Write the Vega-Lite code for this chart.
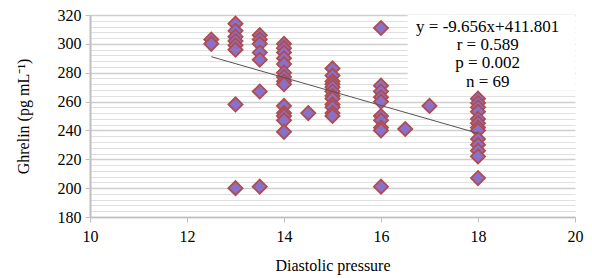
{
  "$schema": "https://vega.github.io/schema/vega-lite/v6.json",
  "width": 485,
  "height": 202,
  "autosize": "none",
  "padding": {"left": 90, "top": 15, "right": 17, "bottom": 61},
  "background": "white",
  "config": {
    "view": {"stroke": null},
    "font": "Liberation Serif"
  },
  "datasets": {
    "pts": [
      {"dp": 12.5, "gh": 303}, {"dp": 12.5, "gh": 300},
      {"dp": 13, "gh": 314}, {"dp": 13, "gh": 309}, {"dp": 13, "gh": 305}, {"dp": 13, "gh": 302}, {"dp": 13, "gh": 299}, {"dp": 13, "gh": 296}, {"dp": 13, "gh": 258}, {"dp": 13, "gh": 200},
      {"dp": 13.5, "gh": 306}, {"dp": 13.5, "gh": 303}, {"dp": 13.5, "gh": 300}, {"dp": 13.5, "gh": 294}, {"dp": 13.5, "gh": 289}, {"dp": 13.5, "gh": 267}, {"dp": 13.5, "gh": 201},
      {"dp": 14, "gh": 300}, {"dp": 14, "gh": 297}, {"dp": 14, "gh": 294}, {"dp": 14, "gh": 290}, {"dp": 14, "gh": 286}, {"dp": 14, "gh": 280}, {"dp": 14, "gh": 277}, {"dp": 14, "gh": 274}, {"dp": 14, "gh": 272}, {"dp": 14, "gh": 257}, {"dp": 14, "gh": 252}, {"dp": 14, "gh": 250}, {"dp": 14, "gh": 247}, {"dp": 14, "gh": 239},
      {"dp": 14.5, "gh": 252},
      {"dp": 15, "gh": 283}, {"dp": 15, "gh": 278}, {"dp": 15, "gh": 274}, {"dp": 15, "gh": 272}, {"dp": 15, "gh": 270}, {"dp": 15, "gh": 267}, {"dp": 15, "gh": 264}, {"dp": 15, "gh": 262}, {"dp": 15, "gh": 258}, {"dp": 15, "gh": 256}, {"dp": 15, "gh": 252}, {"dp": 15, "gh": 250},
      {"dp": 16, "gh": 311}, {"dp": 16, "gh": 271}, {"dp": 16, "gh": 267}, {"dp": 16, "gh": 263}, {"dp": 16, "gh": 260}, {"dp": 16, "gh": 250}, {"dp": 16, "gh": 247}, {"dp": 16, "gh": 242}, {"dp": 16, "gh": 240}, {"dp": 16, "gh": 201},
      {"dp": 16.5, "gh": 241},
      {"dp": 17, "gh": 257},
      {"dp": 18, "gh": 262}, {"dp": 18, "gh": 259}, {"dp": 18, "gh": 256}, {"dp": 18, "gh": 253}, {"dp": 18, "gh": 248}, {"dp": 18, "gh": 245}, {"dp": 18, "gh": 242}, {"dp": 18, "gh": 240}, {"dp": 18, "gh": 234}, {"dp": 18, "gh": 230}, {"dp": 18, "gh": 226}, {"dp": 18, "gh": 222}, {"dp": 18, "gh": 207}
    ],
    "trend": [{"dp": 12.5, "gh": 291.1}, {"dp": 18, "gh": 238.0}],
    "box": [{"x1": 16.55, "x2": 20, "y1": 320, "y2": 267.5}],
    "notes": [
      {"dp": 18.2, "gh": 311.7, "t": "y = -9.656x+411.801"},
      {"dp": 18.2, "gh": 299.2, "t": "r = 0.589"},
      {"dp": 18.2, "gh": 286.6, "t": "p = 0.002"},
      {"dp": 18.2, "gh": 273.4, "t": "n = 69"}
    ]
  },
  "layer": [
    {
      "data": {"name": "box"},
      "mark": {"type": "rect", "fill": "white", "stroke": null},
      "encoding": {
        "x": {"field": "x1", "type": "quantitative", "scale": {"domain": [10, 20], "nice": false, "zero": false},
          "axis": {
            "values": [10, 12, 14, 16, 18, 20],
            "tickCount": 20,
            "format": "d",
            "grid": false,
            "domainColor": "#bfbfbf",
            "domainWidth": 1.5,
            "tickColor": "#bfbfbf",
            "tickSize": 5,
            "labelFont": "Liberation Serif",
            "labelFontSize": 16,
            "labelColor": "black",
            "labelPadding": 6,
            "labelFlush": false,
            "labelOverlap": false,
            "title": "Diastolic pressure",
            "titleFont": "Liberation Serif",
            "titleFontSize": 16,
            "titleFontWeight": "normal",
            "titleColor": "black",
            "titlePadding": 13
          }
        },
        "x2": {"field": "x2"},
        "y": {"field": "y1", "type": "quantitative", "scale": {"domain": [180, 320], "nice": false, "zero": false},
          "axis": {
            "values": [180, 184, 188, 192, 196, 200, 204, 208, 212, 216, 220, 224, 228, 232, 236, 240, 244, 248, 252, 256, 260, 264, 268, 272, 276, 280, 284, 288, 292, 296, 300, 304, 308, 312, 316, 320],
            "tickCount": 60,
            "labelExpr": "datum.value % 20 === 0 ? datum.label : ''",
            "labelOverlap": false,
            "grid": true,
            "gridColor": {"condition": {"test": "datum.value % 20 === 0", "value": "#cfcfcf"}, "value": "#e0e0e0"},
            "gridWidth": {"condition": {"test": "datum.value % 20 === 0", "value": 1.5}, "value": 1},
            "domainColor": "#bfbfbf",
            "domainWidth": 2,
            "tickColor": "#bfbfbf",
            "tickOpacity": {"condition": {"test": "datum.value % 20 === 0", "value": 1}, "value": 0},
            "tickSize": 5,
            "labelFont": "Liberation Serif",
            "labelFontSize": 16,
            "labelColor": "black",
            "labelPadding": 4,
            "labelFlush": false,
            "title": "Ghrelin (pg mL⁻¹)",
            "titleFont": "Liberation Serif",
            "titleFontSize": 16,
            "titleFontWeight": "normal",
            "titleColor": "black",
            "titlePadding": 26
          }
        },
        "y2": {"field": "y2"}
      }
    },
    {
      "data": {"name": "pts"},
      "mark": {"type": "point", "shape": "diamond", "filled": true, "size": 200, "fill": "#8a70c8", "stroke": "#b04c4c", "strokeWidth": 1.8, "opacity": 1},
      "encoding": {
        "x": {"field": "dp", "type": "quantitative"},
        "y": {"field": "gh", "type": "quantitative"}
      }
    },
    {
      "data": {"name": "trend"},
      "mark": {"type": "line", "color": "#555555", "strokeWidth": 1},
      "encoding": {
        "x": {"field": "dp", "type": "quantitative"},
        "y": {"field": "gh", "type": "quantitative"}
      }
    },
    {
      "data": {"name": "notes"},
      "mark": {"type": "text", "font": "Liberation Serif", "fontSize": 17, "color": "black", "align": "center", "baseline": "middle"},
      "encoding": {
        "x": {"field": "dp", "type": "quantitative"},
        "y": {"field": "gh", "type": "quantitative"},
        "text": {"field": "t"}
      }
    }
  ]
}
